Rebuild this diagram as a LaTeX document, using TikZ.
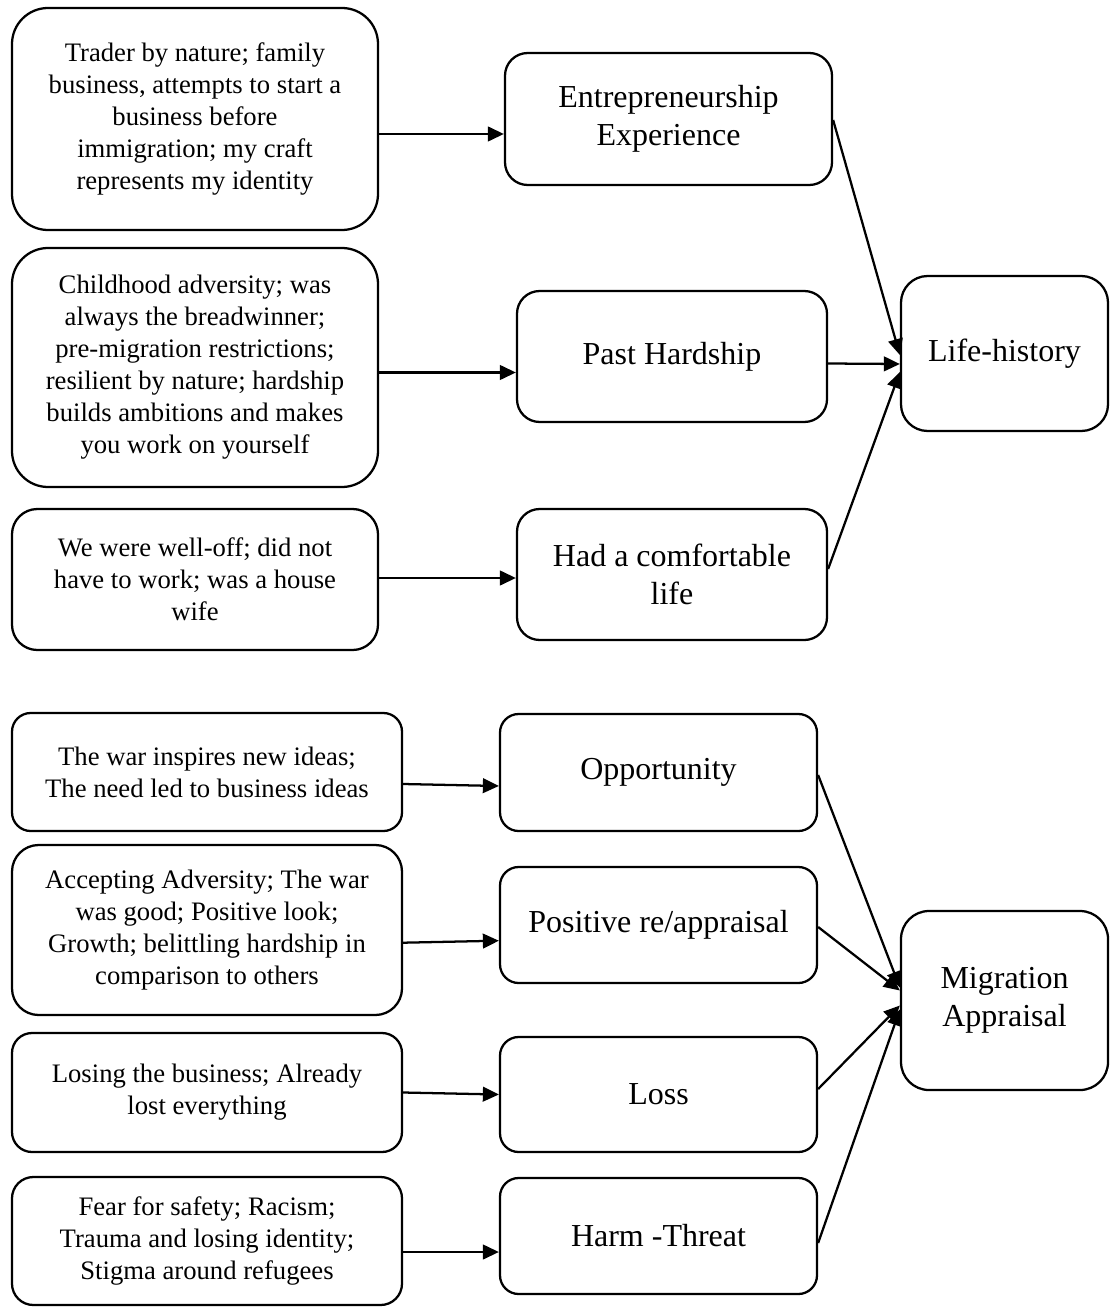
\documentclass[tikz,border=0pt]{standalone}
\usepackage{fontspec}
\setmainfont{Liberation Serif}
\usetikzlibrary{arrows.meta,calc}
\tikzset{
	quote/.style={draw, line width=1.7pt, rounded corners=#1, align=center, inner sep=0pt, font=\fontsize{20}{24}\selectfont},
	theme/.style={draw, line width=1.7pt, rounded corners=#1, align=center, inner sep=0pt, font=\fontsize{24}{28.5}\selectfont},
	link/.style={line width=1.7pt, -{Triangle[length=12pt,width=11pt]}}
}
\begin{document}
\begin{tikzpicture}[x=0.75pt,y=-0.75pt]
		\useasboundingbox (0,0) rectangle (1109,1312);
		\node[quote=27pt, minimum width=274.5pt, minimum height=166.5pt] (trader) at (195,119) {Trader by nature; family\\business, attempts to start a\\business before\\immigration; my craft\\represents my identity};
		\node[quote=27pt, minimum width=274.5pt, minimum height=179.25pt] (child) at (195,367.5) {Childhood adversity; was\\always the breadwinner;\\pre-migration restrictions;\\resilient by nature; hardship\\builds ambitions and makes\\you work on yourself};
		\node[quote=19pt, minimum width=274.5pt, minimum height=105.75pt] (welloff) at (195,579.5) {We were well-off; did not\\have to work; was a house\\wife};
		\node[theme=17pt, minimum width=245.25pt, minimum height=99pt] (entre) at (668.5,119) {Entrepreneurship\\Experience};
		\node[theme=17pt, minimum width=232.5pt, minimum height=98.25pt] (hard) at (672,356.5) {Past Hardship};
		\node[theme=17pt, minimum width=232.5pt, minimum height=98.25pt] (comfort) at (672,574.5) {Had a comfortable\\life};
		\node[theme=20pt, minimum width=155.25pt, minimum height=116.25pt] (life) at (1004.5,353.5) {Life-history};
		\node[quote=14pt, minimum width=292.5pt, minimum height=88.5pt] (war) at (207,772) {The war inspires new ideas;\\The need led to business ideas};
		\node[quote=20pt, minimum width=292.5pt, minimum height=127.5pt] (accept) at (207,930) {Accepting Adversity; The war\\was good; Positive look;\\Growth; belittling hardship in\\comparison to others};
		\node[quote=15pt, minimum width=292.5pt, minimum height=89.25pt] (losing) at (207,1092.5) {Losing the business; Already\\lost everything};
		\node[quote=16pt, minimum width=292.5pt, minimum height=96pt] (fear) at (207,1241) {Fear for safety; Racism;\\Trauma and losing identity;\\Stigma around refugees};
		\node[theme=14pt, minimum width=237.75pt, minimum height=87.75pt] (opp) at (658.5,772.5) {Opportunity};
		\node[theme=14pt, minimum width=237.75pt, minimum height=87pt] (pos) at (658.5,925) {Positive re/appraisal};
		\node[theme=14pt, minimum width=237.75pt, minimum height=86.25pt] (loss) at (658.5,1094.5) {Loss};
		\node[theme=14pt, minimum width=237.75pt, minimum height=87pt] (harm) at (658.5,1236) {Harm -Threat};
		\node[theme=21pt, minimum width=155.25pt, minimum height=134.25pt] (mig) at (1004.5,1000.5) {Migration\\Appraisal};
		\draw[link] ($(trader.east)+(0,15)$) -- ($(entre.west)+(0,15)$);
		\draw[link] ($(child.east)+(0,5)$) -- ($(hard.west)+(0,16)$);
		\draw[link] ($(welloff.east)+(0,-1.5)$) -- ($(comfort.west)+(0,3.5)$);
		\draw[link] ($(entre.east)+(0,1)$) -- ($(life.west)+(0,1.5)$);
		\draw[link] ($(hard.east)+(0,7)$) -- ($(life.west)+(0,10.5)$);
		\draw[link] ($(comfort.east)+(0,-5.5)$) -- ($(life.west)+(0,18.5)$);
		\draw[link] ($(war.east)+(0,12)$) -- ($(opp.west)+(0,13.5)$);
		\draw[link] ($(accept.east)+(0,12.7)$) -- ($(pos.west)+(0,15.7)$);
		\draw[link] (losing.east) -- (loss.west);
		\draw[link] ($(fear.east)+(0,11)$) -- ($(harm.west)+(0,16)$);
		\draw[link] ($(opp.east)+(0,2.5)$) -- ($(mig.west)+(0,-13)$);
		\draw[link] ($(pos.east)+(0,2)$) -- ($(mig.west)+(0,-10)$);
		\draw[link] ($(loss.east)+(0,-5.5)$) -- ($(mig.west)+(0,5)$);
		\draw[link] ($(harm.east)+(0,7)$) -- ($(mig.west)+(0,9)$);
	\end{tikzpicture}
\end{document}
